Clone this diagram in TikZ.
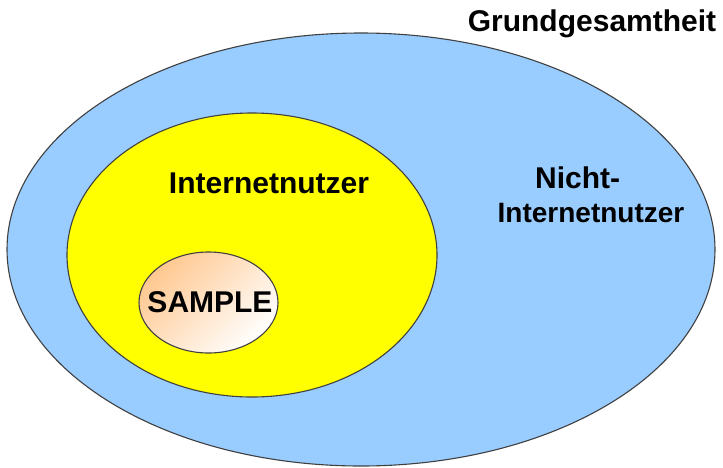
\documentclass[tikz,border=0pt]{standalone}
\usepackage{fontspec}
\setmainfont{Liberation Sans}
\definecolor{outerblue}{HTML}{99CCFF}
\definecolor{inneryellow}{HTML}{FFFF00}
\definecolor{sampleorange}{HTML}{FFC890}
\begin{document}
\begin{tikzpicture}[x=1pt,y=-1pt,
  lbl/.style={font=\fontsize{30}{34}\selectfont\bfseries, inner sep=0pt},
  lblsm/.style={font=\fontsize{28}{32}\selectfont\bfseries, inner sep=0pt},
  ell/.style={draw=black!75, line width=1.1pt}]
\useasboundingbox (0,0) rectangle (723,467);
\path[ell, fill=outerblue] (361,249.5) ellipse [x radius=354, y radius=216.5];
\path[ell, fill=inneryellow] (252,255) ellipse [x radius=185, y radius=142];
\path[ell, shade, top color=sampleorange, bottom color=white, shading angle=45] (208.5,302.5) ellipse [x radius=69.5, y radius=50.5];
\node[lbl] (gg) at (592,24) {Grundgesamtheit};
\node[lbl] (inet) at (269,183) {Internetnutzer};
\node[lbl, anchor=west] (nicht) at (535,178) {Nicht-};
\node[lblsm] (ninet) at (591,213) {Internetnutzer};
\node[lbl] (sample) at (210,302) {SAMPLE};
\end{tikzpicture}
\end{document}
